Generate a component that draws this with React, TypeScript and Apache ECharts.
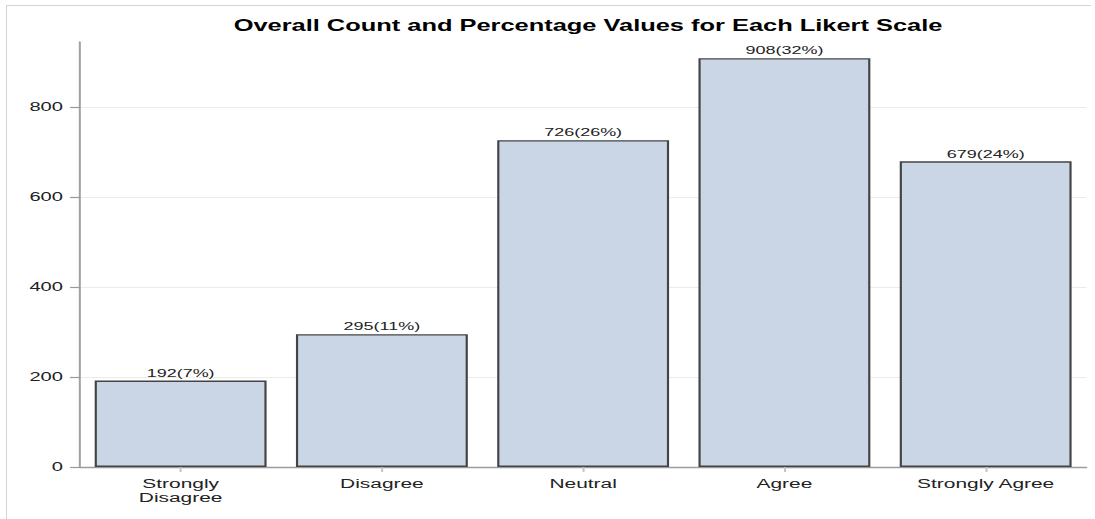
import React, { useEffect, useRef } from "react";
import * as echarts from "echarts";

// Likert response categories and their counts
const categories = ["Strongly\nDisagree", "Disagree", "Neutral", "Agree", "Strongly Agree"];
const counts = [192, 295, 726, 908, 679];
const yTicks = [0, 200, 400, 600, 800];

const TITLE = "Overall Count and Percentage Values for Each Likert Scale";
const FONT = "'Liberation Sans', Arial, Helvetica, sans-serif";

// The chart is laid out narrow and stretched horizontally, giving wide glyphs.
const STRETCH = 1.55;
const FULL_W = 1095;
const FULL_H = 519;
const W = FULL_W / STRETCH;
const sx = (px: number) => px / STRETCH;

export default function App() {
  const ref = useRef<HTMLDivElement>(null);

  useEffect(() => {
    if (!ref.current) return;
    const chart = echarts.init(ref.current, undefined, { renderer: "svg" });
    const total = counts.reduce((a, b) => a + b, 0);

    chart.setOption({
      animation: false,
      backgroundColor: "#ffffff",
      textStyle: { fontFamily: FONT },
      grid: { left: sx(80), right: sx(8), top: 42, bottom: 52, containLabel: false },
      graphic: [
        {
          type: "text",
          x: sx(588),
          y: 26,
          style: {
            text: TITLE,
            fontFamily: FONT,
            fontSize: 16.4,
            fontWeight: "bold",
            fill: "#000000",
            align: "center",
            verticalAlign: "middle",
          },
          silent: true,
        },
      ],
      xAxis: {
        type: "category",
        data: categories,
        axisLine: { show: true, lineStyle: { color: "#9c9c9c", width: 1.4 } },
        axisTick: { show: true, alignWithLabel: true, length: 5, lineStyle: { color: "#c4c4c4", width: 1.3 } },
        axisLabel: {
          color: "#222222",
          fontSize: 13.5,
          lineHeight: 14,
          margin: 9,
          fontFamily: FONT,
          interval: 0,
        },
        splitLine: { show: false },
      },
      yAxis: {
        type: "value",
        min: 0,
        max: 944,
        interval: 200,
        axisLine: { show: true, lineStyle: { color: "#a0a0a0", width: 1.3 } },
        axisTick: {
          show: true,
          inside: false,
          length: sx(10),
          lineStyle: { color: "#9a9a9a", width: 1.2 },
          customValues: yTicks,
        },
        axisLabel: {
          color: "#222222",
          fontSize: 13,
          margin: sx(17),
          fontFamily: FONT,
          customValues: yTicks,
        },
        splitLine: { show: true, lineStyle: { color: "#ebebeb", width: 1 } },
      },
      series: [
        {
          type: "bar",
          data: counts,
          barCategoryGap: "14.6%",
          itemStyle: { color: "#cad6e6", borderColor: "#444444", borderWidth: 1.4 },
          label: {
            show: true,
            position: "top",
            distance: 2,
            color: "#222222",
            fontSize: 11.6,
            fontFamily: FONT,
            formatter: (p: any) => `${p.value}(${Math.round((p.value / total) * 100)}%)`,
          },
        },
      ],
    });

    return () => chart.dispose();
  }, []);

  return (
    <div
      style={{
        position: "absolute",
        left: 0,
        top: 0,
        width: FULL_W,
        height: FULL_H,
        overflow: "hidden",
        background: "#ffffff",
      }}
    >
      <div
        ref={ref}
        style={{
          width: W,
          height: FULL_H,
          transform: `scaleX(${STRETCH})`,
          transformOrigin: "0 0",
        }}
      />
      {/* thin frame along the top and left edges of the figure */}
      <div
        style={{
          position: "absolute",
          left: 6,
          top: 5,
          width: 1084,
          height: FULL_H,
          borderTop: "1px solid #d4d4d4",
          borderLeft: "1px solid #d4d4d4",
          pointerEvents: "none",
        }}
      />
    </div>
  );
}
